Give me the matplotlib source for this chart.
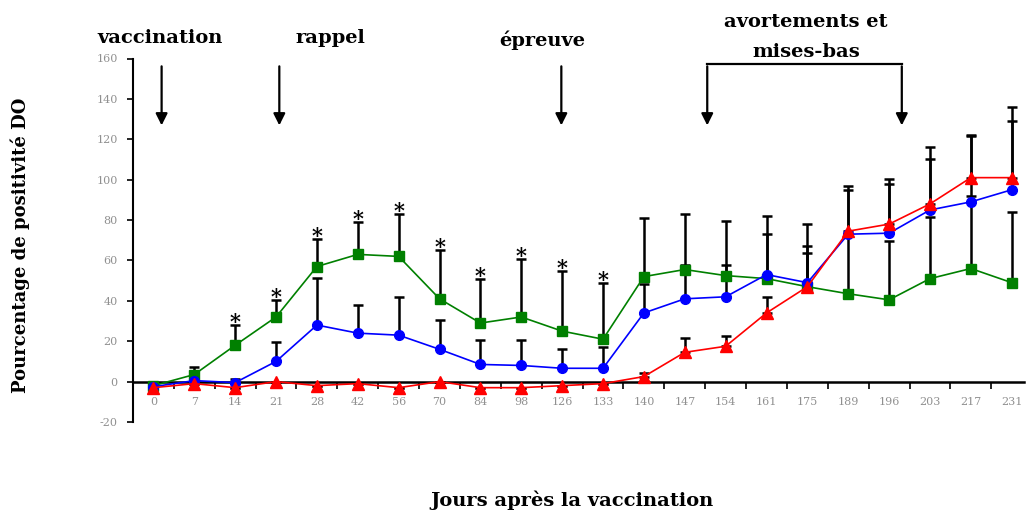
import matplotlib
matplotlib.use('Agg')
import matplotlib.pyplot as plt
import numpy as np

plt.rcParams['axes.unicode_minus'] = False

days = ['0', '7', '14', '21', '28', '42', '56', '70', '84', '98', '126', '133',
        '140', '147', '154', '161', '175', '189', '196', '203', '217', '231']

green = [-2, 3.5, 18, 32, 57, 63, 62, 41, 29, 32, 25, 21,
         52, 55.5, 52.5, 51, 47, 43.5, 40.5, 51, 56, 49]
green_err = [0, 3.5, 10, 8.5, 13.5, 16, 21, 24, 22, 28.5, 30, 28,
             29, 27.5, 27, 31, 31, 28.5, 29, 30.5, 36, 35]

blue = [-2.5, 0.5, -0.5, 10, 28, 24, 23, 16, 8.5, 8, 6.6, 6.6,
        34, 41, 42, 53, 49, 73, 73.5, 85, 89, 95]
blue_err = [0, 0, 2, 9.5, 23.5, 14, 19, 14.5, 12, 12.5, 9.5, 10.5,
            14.5, 16.5, 15.5, 20, 18, 22, 24.5, 25, 32.5, 34]

red = [-3, -1, -3, 0, -2, -1, -3, 0, -3, -3, -2, -1,
       2.5, 14.5, 17.5, 34, 47, 74.5, 78, 88, 101, 101]
red_err = [0, 0, 0, 0, 0, 0, 0, 0, 0, 0, 0, 0,
           2, 7, 5, 8, 16.5, 22.5, 22.5, 28, 21, 35]

# days with a significant difference (asterisk above the green bar)
star_days = ['14', '21', '28', '42', '56', '70', '84', '98', '126', '133']

# events: label, x position (category index)
events = [('vaccination', 0.2), ('rappel', 3.08), ('épreuve', 9.98)]
abort_span = (13.55, 18.31)

W, H = 1026, 513
fig = plt.figure(figsize=(W / 100, H / 100), dpi=100)
ax = fig.add_axes([133 / W, 1 - 422 / H, (1024 - 133) / W, (422 - 58.5) / H])

x = np.arange(len(days))

err_kw = dict(fmt='none', ecolor='black', elinewidth=1.8, capsize=3.5,
              capthick=1.8, zorder=2)
for vals, errs in [(green, green_err), (blue, blue_err), (red, red_err)]:
    e = np.array(errs, dtype=float)
    ax.errorbar(x, vals, yerr=[np.zeros_like(e), e], **err_kw)

ax.plot(x, green, color='#008000', marker='s', markersize=7, lw=1.2, zorder=3)
ax.plot(x, blue, color='#0000ff', marker='o', markersize=7, lw=1.2, zorder=4)
ax.plot(x, red, color='#ff0000', marker='^', markersize=8, lw=1.2, zorder=5)

for d in star_days:
    i = days.index(d)
    ax.text(i, green[i] + green_err[i] + 1.5, '*', ha='center', va='center',
            fontsize=15, fontweight='bold', family='DejaVu Serif',
            color='black', zorder=6)

ax.set_xlim(-0.5, 21.3)
ax.set_ylim(-20, 160)
ax.spines['top'].set_visible(False)
ax.spines['right'].set_visible(False)
ax.spines['bottom'].set_position(('data', 0))
ax.spines['left'].set_linewidth(1.5)
ax.spines['bottom'].set_linewidth(1.8)

ax.set_yticks(np.arange(-20, 161, 20))
ax.tick_params(axis='y', direction='out', length=4, width=1.2, pad=7,
               labelsize=8, labelcolor='#909090')
ax.set_xticks(x)
ax.set_xticklabels(days)
ax.set_xticks(x[:-1] + 0.5, minor=True)
ax.tick_params(axis='x', which='major', length=0, pad=11, labelsize=8,
               labelcolor='#909090')
ax.tick_params(axis='x', which='minor', direction='out', length=5, width=1.2)
for lab in ax.get_xticklabels() + ax.get_yticklabels():
    lab.set_family('DejaVu Serif')

# event arrows
arrow_kw = dict(arrowstyle='-|>,head_width=0.35,head_length=0.7', color='black', lw=1.6)
for label, xi in events:
    ax.annotate('', xy=(xi, 125.5), xytext=(xi, 157.5), arrowprops=arrow_kw,
                annotation_clip=False)
for xi in abort_span:
    ax.annotate('', xy=(xi, 125.5), xytext=(xi, 157.5), arrowprops=arrow_kw,
                annotation_clip=False)
ax.plot(abort_span, [157.5, 157.5], color='black', lw=1.6, clip_on=False)

title_kw = dict(family='DejaVu Serif', fontweight='bold', fontsize=14,
                ha='center', va='center')
fig.text(160 / W, 1 - 38 / H, 'vaccination', **title_kw)
fig.text(330 / W, 1 - 38 / H, 'rappel', **title_kw)
fig.text(542 / W, 1 - 40 / H, 'épreuve', **title_kw)
fig.text(806 / W, 1 - 22 / H, 'avortements et', **title_kw)
fig.text(806 / W, 1 - 52 / H, 'mises-bas', **title_kw)

fig.text(20 / W, 1 - 245 / H, 'Pourcentage de positivité DO', rotation=90,
         family='DejaVu Serif', fontweight='bold', fontsize=13,
         ha='center', va='center')
fig.text(572 / W, 1 - 500 / H, 'Jours après la vaccination',
         family='DejaVu Serif', fontweight='bold', fontsize=14,
         ha='center', va='center')

fig.savefig('out.png', dpi=100)
